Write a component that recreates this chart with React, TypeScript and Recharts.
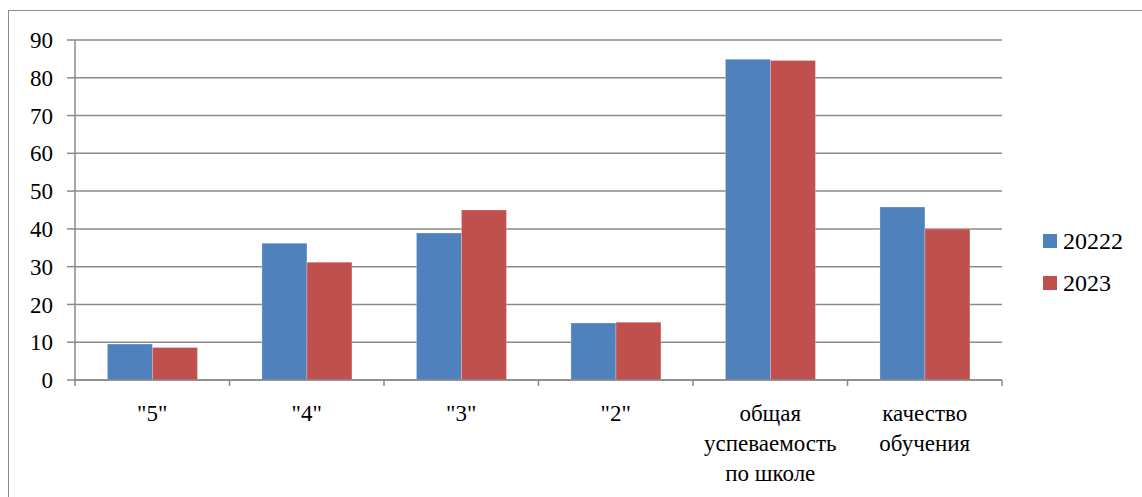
import { Bar, BarChart, CartesianGrid, XAxis, YAxis } from 'recharts';

// Values
const categories = ['"5"', '"4"', '"3"', '"2"', 'общая\nуспеваемость\nпо школе', 'качество\nобучения'];
const values2022 = [9.5, 36.2, 38.9, 15.1, 84.9, 45.8];
const values2023 = [8.6, 31.2, 45.0, 15.3, 84.6, 40.0];
const yTicks = [0, 10, 20, 30, 40, 50, 60, 70, 80, 90];

const SERIES = [
  { key: 'v2022', name: '20222', color: '#4F81BD' },
  { key: 'v2023', name: '2023', color: '#C0504D' },
];

const FONT = 'Liberation Serif, DejaVu Serif, serif';
const GRAY = '#8a8a8a';

const data = categories.map((category, i) => ({
  category,
  v2022: values2022[i],
  v2023: values2023[i],
}));

// Label at the category centre, small tick marks on the category boundaries
function CategoryTick({ x, y, width, payload, index, visibleTicksCount }: any) {
  const lines = String(payload.value).split('\n');
  const half = width / visibleTicksCount / 2;
  return (
    <g>
      <line x1={x - half} x2={x - half} y1={y} y2={y + 6} stroke={GRAY} strokeWidth={1.5} />
      {index === visibleTicksCount - 1 && (
        <line x1={x + half} x2={x + half} y1={y} y2={y + 6} stroke={GRAY} strokeWidth={1.5} />
      )}
      <text x={x} y={y} textAnchor="middle" fontFamily={FONT} fontSize={23} fill="#000">
        {lines.map((line, i) => (
          <tspan key={i} x={x} dy={i === 0 ? 41 : 30}>
            {line}
          </tspan>
        ))}
      </text>
    </g>
  );
}

export default function App() {
  return (
    <div style={{ position: 'absolute', left: 0, top: 0, width: 1142, height: 497, overflow: 'hidden', background: '#fff' }}>
      <div
        style={{
          position: 'absolute',
          left: 8,
          top: 10,
          width: 1300,
          height: 700,
          border: `1px solid ${GRAY}`,
        }}
      />
      <div style={{ position: 'absolute', left: 0, top: 0 }}>
        <BarChart
          width={1142}
          height={497}
          data={data}
          margin={{ top: 40, right: 140, bottom: 0, left: 0 }}
          barCategoryGap="21%"
          barGap={0}
        >
          <CartesianGrid horizontal vertical={false} stroke={GRAY} strokeWidth={1.5} />
          <XAxis
            dataKey="category"
            height={117}
            interval={0}
            tick={<CategoryTick />}
            tickSize={0}
            tickMargin={0}
            tickLine={false}
            axisLine={{ stroke: GRAY, strokeWidth: 1.5 }}
          />
          <YAxis
            width={75}
            domain={[0, 90]}
            ticks={yTicks}
            interval={0}
            tickSize={8}
            tickMargin={14}
            axisLine={{ stroke: GRAY, strokeWidth: 1.5 }}
            tickLine={{ stroke: GRAY, strokeWidth: 1.5 }}
            tick={{ fontFamily: FONT, fontSize: 23, fill: '#000' }}
          />
          {SERIES.map((s) => (
            <Bar
              key={s.key}
              dataKey={s.key}
              name={s.name}
              fill={s.color}
              stroke="rgba(255,255,255,0.5)"
              strokeWidth={0.5}
              isAnimationActive={false}
            />
          ))}
        </BarChart>
      </div>
      <div style={{ position: 'absolute', left: 1043, top: 220, fontFamily: FONT, fontSize: 24, color: '#000' }}>
        {SERIES.map((s) => (
          <div key={s.key} style={{ display: 'flex', alignItems: 'center', height: 42 }}>
            <span style={{ width: 14, height: 14, background: s.color, marginRight: 6, display: 'inline-block' }} />
            <span>{s.name}</span>
          </div>
        ))}
      </div>
    </div>
  );
}
